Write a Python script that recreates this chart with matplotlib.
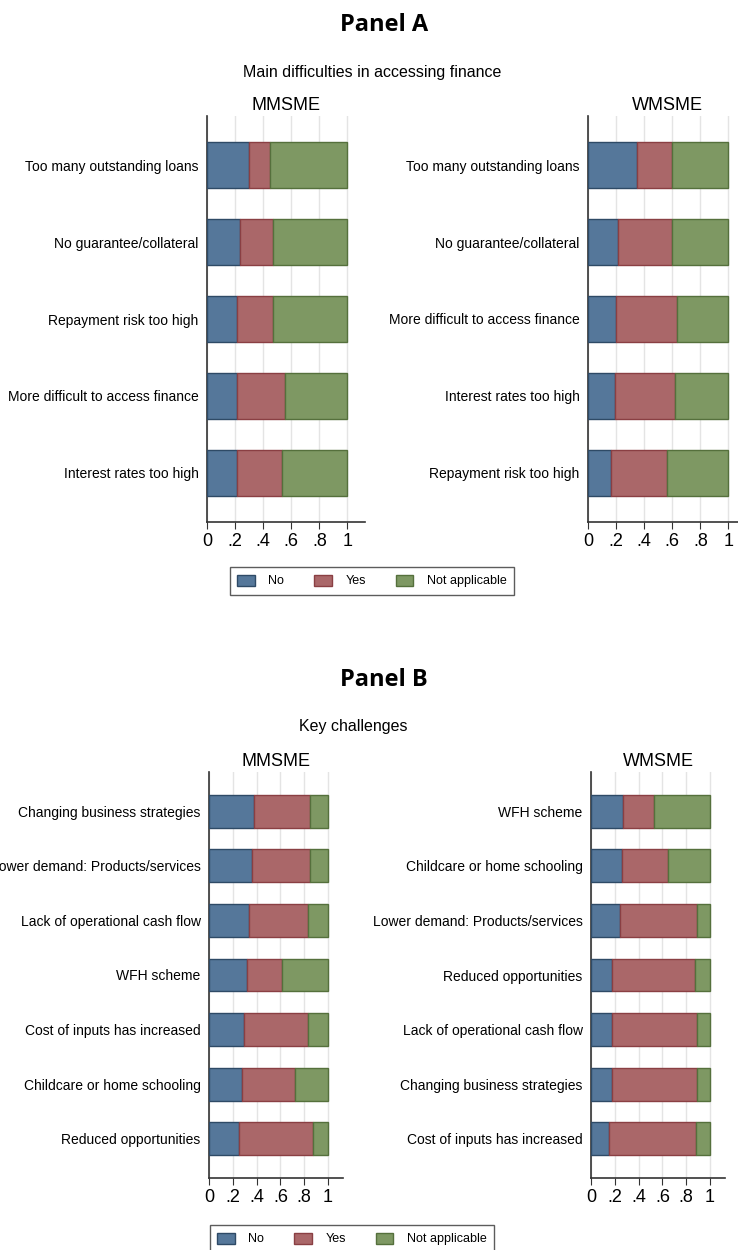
import numpy as np
import matplotlib
matplotlib.use("Agg")
import matplotlib.pyplot as plt
from matplotlib.patches import Patch

plt.rcParams["font.family"] = ["Liberation Sans", "DejaVu Sans"]

# Panel A: main difficulties in accessing finance (shares, cumulative read-off)
a_m_labels = ["Too many outstanding loans", "No guarantee/collateral", "Repayment risk too high",
              "More difficult to access finance", "Interest rates too high"]
a_m_no = [0.30, 0.233, 0.214, 0.214, 0.214]
a_m_yes = [0.147, 0.235, 0.254, 0.342, 0.318]

a_w_labels = ["Too many outstanding loans", "No guarantee/collateral", "More difficult to access finance",
              "Interest rates too high", "Repayment risk too high"]
a_w_no = [0.351, 0.211, 0.199, 0.19, 0.166]
a_w_yes = [0.249, 0.389, 0.434, 0.428, 0.40]

# Panel B: key challenges
b_m_labels = ["Changing business strategies", "Lower demand: Products/services", "Lack of operational cash flow",
              "WFH scheme", "Cost of inputs has increased", "Childcare or home schooling", "Reduced opportunities"]
b_m_no = [0.381, 0.359, 0.339, 0.317, 0.297, 0.275, 0.255]
b_m_yes = [0.468, 0.490, 0.490, 0.299, 0.532, 0.448, 0.622]

b_w_labels = ["WFH scheme", "Childcare or home schooling", "Lower demand: Products/services",
              "Reduced opportunities", "Lack of operational cash flow", "Changing business strategies",
              "Cost of inputs has increased"]
b_w_no = [0.266, 0.258, 0.246, 0.174, 0.174, 0.174, 0.151]
b_w_yes = [0.261, 0.392, 0.648, 0.703, 0.720, 0.720, 0.734]

cols = ["#55779A", "#AA6769", "#7E9863"]
edges = ["#2E4A66", "#8A3F43", "#55703C"]
legend_names = ["No", "Yes", "Not applicable"]

W, H = 738, 1250
fig = plt.figure(figsize=(W / 100, H / 100), dpi=100)


def draw(rect, labels, no, yes, title, pad):
    ax = fig.add_axes(rect)
    no = np.array(no)
    yes = np.array(yes)
    na = 1 - no - yes
    y = np.arange(len(labels))
    left = np.zeros(len(labels))
    for vals, c, e in zip([no, yes, na], cols, edges):
        ax.barh(y, vals, left=left, height=0.6, color=c, edgecolor=e, linewidth=1, zorder=3)
        left = left + vals
    ax.set_xlim(0, 1.125)
    ax.set_ylim(len(labels) - 1 + pad, -pad)
    ax.set_yticks(y)
    ax.set_yticklabels(labels, fontsize=10)
    ax.set_xticks([0, 0.2, 0.4, 0.6, 0.8, 1])
    ax.set_xticklabels(["0", ".2", ".4", ".6", ".8", "1"], fontsize=13)
    ax.tick_params(axis="y", length=0, pad=6)
    ax.tick_params(axis="x", length=5, color="#333333", pad=3)
    ax.grid(axis="x", color="#e4e4e4", linewidth=1, zorder=0)
    for s in ["top", "right"]:
        ax.spines[s].set_visible(False)
    for s in ["left", "bottom"]:
        ax.spines[s].set_color("#333333")
        ax.spines[s].set_linewidth(1.2)
    ax.set_title(title, fontsize=13, pad=4)
    return ax


def rect(x0, y_top, w, y_bot):
    return [x0 / W, 1 - y_bot / H, w / W, (y_bot - y_top) / H]


draw(rect(207, 116, 158, 522), a_m_labels, a_m_no, a_m_yes, "MMSME", 0.64)
draw(rect(588, 116, 158, 522), a_w_labels, a_w_no, a_w_yes, "WMSME", 0.64)
draw(rect(209, 772, 134, 1178), b_m_labels, b_m_no, b_m_yes, "MMSME", 0.72)
draw(rect(591, 772, 134, 1178), b_w_labels, b_w_no, b_w_yes, "WMSME", 0.72)

head = dict(fontsize=17, fontweight="bold", family=["Open Sans", "DejaVu Sans"], ha="center", va="center")
fig.text(384 / W, 1 - 25 / H, "Panel A", **head)
fig.text(372 / W, 1 - 72 / H, "Main difficulties in accessing finance", fontsize=11.5, ha="center", va="center")
fig.text(384 / W, 1 - 680 / H, "Panel B", **head)
fig.text(353 / W, 1 - 726 / H, "Key challenges", fontsize=11.5, ha="center", va="center")

handles = [Patch(facecolor=c, edgecolor=e, label=n) for c, e, n in zip(cols, edges, legend_names)]
for cx, cy in [(372, 581), (352, 1239)]:
    leg = fig.legend(handles=handles, loc="center", bbox_to_anchor=(cx / W, 1 - cy / H), ncol=3,
                     fontsize=9, frameon=True, fancybox=False, edgecolor="#333333",
                     handlelength=1.4, handleheight=1.0, columnspacing=2.4, handletextpad=1.1,
                     borderpad=0.6)
    leg.get_frame().set_linewidth(1)

fig.savefig("out.png", dpi=100)
